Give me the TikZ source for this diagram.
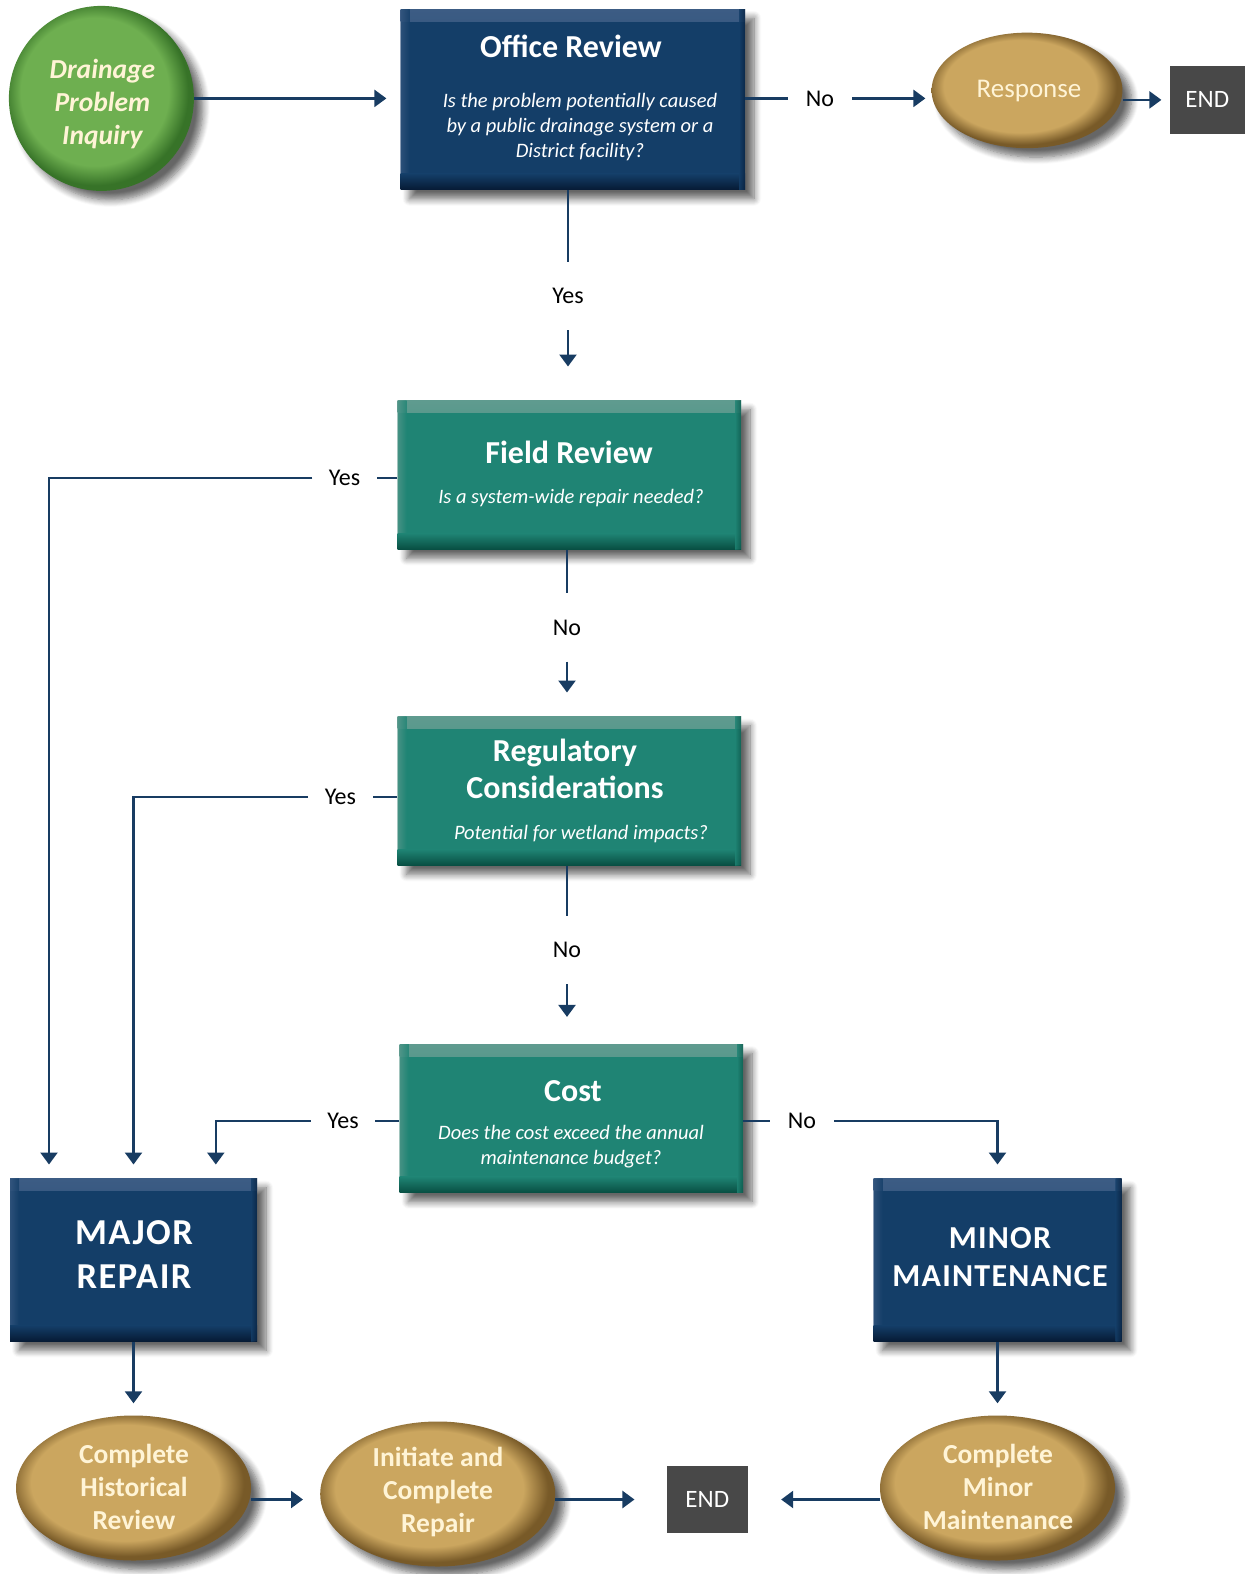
\documentclass[tikz,border=0pt]{standalone}
\usepackage{fontspec}
\setmainfont{Carlito}
\newfontfamily\spacedfont[LetterSpace=4]{Carlito}
\usetikzlibrary{arrows.meta,calc,shadows.blur,shapes.geometric}
\definecolor{navy}{RGB}{20,62,104}
\definecolor{navyL}{RGB}{60,92,132}
\definecolor{navyD}{RGB}{6,26,52}
\definecolor{teal}{RGB}{31,132,116}
\definecolor{tealL}{RGB}{95,155,143}
\definecolor{tealD}{RGB}{8,78,66}
\definecolor{goldc}{RGB}{203,166,95}
\definecolor{goldd}{RGB}{120,90,40}
\definecolor{greenc}{RGB}{110,175,80}
\definecolor{greend}{RGB}{55,115,40}
\definecolor{endgray}{RGB}{72,72,72}
\definecolor{lnc}{RGB}{24,60,98}
\definecolor{cream}{RGB}{255,244,214}
\pgfdeclareradialshading{goldrim}{\pgfpoint{-3bp}{3bp}}{color(0bp)=(goldc);color(20bp)=(goldc);color(25bp)=(goldd);color(50bp)=(goldd)}
\pgfdeclareradialshading{greenrim}{\pgfpoint{-3bp}{3bp}}{color(0bp)=(greenc);color(20bp)=(greenc);color(25bp)=(greend);color(50bp)=(greend)}
\tikzset{
  shad/.style={blur shadow={shadow xshift=9pt,shadow yshift=-9pt,shadow blur radius=7pt,shadow blur steps=8,shadow opacity=60}},
  navybox/.style={rectangle,fill=navy,shad,path picture={
    \fill[top color=navyL,bottom color=navy] (path picture bounding box.north west) rectangle ([yshift=-12pt]path picture bounding box.north east);
    \fill[left color=navyL,right color=navy,opacity=0.6] (path picture bounding box.north west) rectangle ([xshift=9pt]path picture bounding box.south west);
    \fill[top color=navy,bottom color=navyD] ([yshift=16pt]path picture bounding box.south west) rectangle (path picture bounding box.south east);
    \fill[left color=navy,right color=navyD,opacity=0.6] ([xshift=-6pt]path picture bounding box.north east) rectangle (path picture bounding box.south east);}},
  tealbox/.style={rectangle,fill=teal,shad,minimum width=343.4pt,minimum height=148.6pt,path picture={
    \fill[top color=tealL,bottom color=teal] (path picture bounding box.north west) rectangle ([yshift=-12pt]path picture bounding box.north east);
    \fill[left color=tealL,right color=teal,opacity=0.6] (path picture bounding box.north west) rectangle ([xshift=9pt]path picture bounding box.south west);
    \fill[top color=teal,bottom color=tealD] ([yshift=16pt]path picture bounding box.south west) rectangle (path picture bounding box.south east);
    \fill[left color=teal,right color=tealD,opacity=0.6] ([xshift=-6pt]path picture bounding box.north east) rectangle (path picture bounding box.south east);}},
  goldell/.style={ellipse,shading=goldrim,shad,inner sep=0pt},
  endbox/.style={rectangle,fill=endgray,text=white,font=\fontsize{25}{30}\selectfont},
  ttl/.style={text=white,font=\fontsize{32}{37}\selectfont\bfseries,align=center,inner sep=0pt},
  sub/.style={text=white,font=\fontsize{20.5}{25}\selectfont\itshape,align=center,inner sep=0pt},
  gtxt/.style={text=cream,font=\fontsize{27.5}{33}\selectfont\bfseries,align=center,inner sep=0pt},
  hlab/.style={font=\fontsize{24}{28}\selectfont,minimum width=64pt,inner sep=0pt},
  vlab/.style={font=\fontsize{24}{28}\selectfont,minimum height=68pt,inner sep=0pt},
  ln/.style={draw=lnc,line width=2.4pt},
  arr/.style={ln,-{Triangle[length=12pt,width=17pt]}}
}
\begin{document}
\begin{tikzpicture}[x=1pt,y=-1pt]
\useasboundingbox (0,0) rectangle (1245,1574);
% nodes
\node[circle,shading=greenrim,shad,minimum size=185pt,inner sep=0pt] (green) at (101.4,98.4) {};
\node[text=cream,font=\fontsize{27.5}{33}\selectfont\bfseries\itshape,align=center,inner sep=0pt] (greenT) at (102.4,104) {Drainage\\Problem\\Inquiry};
\node[navybox,minimum width=344.4pt,minimum height=180.8pt] (office) at (572.8,99.4) {};
\node[ttl] (officeT) at (571,46.5) {Office Review};
\node[sub] (officeS) at (580,127.5) {Is the problem potentially caused\\by a public drainage system or a\\District facility?};
\node[goldell,minimum width=190.8pt,minimum height=115.5pt] (resp) at (1027,90.4) {};
\node[text=cream,font=\fontsize{27}{32}\selectfont,inner sep=0pt] (respT) at (1029,91) {Response};
\node[endbox,minimum width=75.4pt,minimum height=67.2pt] (end1) at (1207.3,99.9) {END};
\node[hlab] (no1) at (820,98.4) {No};
\node[vlab] (yes0) at (568,296) {Yes};
\node[tealbox] (field) at (569.3,475) {};
\node[ttl] (fieldT) at (569,452.8) {Field Review};
\node[sub] (fieldS) at (571,498) {Is a system-wide repair needed?};
\node[hlab] (yesF) at (344.5,478) {Yes};
\node[vlab] (noF) at (567,627.5) {No};
\node[tealbox] (reg) at (569.3,791) {};
\node[ttl] (regT) at (565,769) {Regulatory\\Considerations};
\node[sub] (regS) at (581,834.3) {Potential for wetland impacts?};
\node[hlab] (yesR) at (340.4,797) {Yes};
\node[vlab] (noR) at (567,950) {No};
\node[tealbox] (cost) at (571.3,1118.4) {};
\node[ttl] (costT) at (573,1091.3) {Cost};
\node[sub] (costS) at (571,1147) {Does the cost exceed the annual\\maintenance budget?};
\node[hlab] (yesC) at (343,1121) {Yes};
\node[hlab] (noC) at (802,1121) {No};
\node[navybox,minimum width=247pt,minimum height=162.6pt] (major) at (133.5,1260) {};
\node[text=white,font=\fontsize{36.5}{44}\selectfont\bfseries\spacedfont,align=center,inner sep=0pt] (majorT) at (134,1255) {MAJOR\\REPAIR};
\node[navybox,minimum width=248pt,minimum height=162.6pt] (minor) at (997.5,1260) {};
\node[text=white,font=\fontsize{32}{38}\selectfont\bfseries\spacedfont,align=center,inner sep=0pt] (minorT) at (1000,1257) {MINOR\\MAINTENANCE};
\node[goldell,minimum width=235pt,minimum height=145pt] (chr) at (133.5,1488) {};
\node[gtxt] (chrT) at (134,1487) {Complete\\Historical\\Review};
\node[goldell,minimum width=235pt,minimum height=145pt] (icr) at (437.7,1494) {};
\node[gtxt] (icrT) at (438,1492) {Initiate and\\Complete\\Repair};
\node[goldell,minimum width=235pt,minimum height=145pt] (cmm) at (997.5,1488) {};
\node[gtxt] (cmmT) at (998,1487) {Complete\\Minor\\Maintenance};
\node[endbox,minimum width=81.3pt,minimum height=67pt] (end2) at (707.3,1499.5) {END};
\coordinate (majA) at ($(major.north west)+(39.2,0)$);
\coordinate (majC) at ($(major.north west)+(206,0)$);
% connectors
\draw[arr,shorten >=14pt] (green.east) -- (green.east -| office.west);
\draw[ln] (office.east |- no1) -- (no1.west);
\draw[arr,shorten >=6pt] (no1.east) -- (no1 -| resp.west);
\draw[arr,shorten >=8pt] (resp.east |- end1) -- (end1.west);
\draw[ln] (office.south -| yes0) -- (yes0.north);
\draw[arr,shorten >=34pt] (yes0.south) -- (yes0.south |- field.north);
\draw[ln] (field.west |- yesF) -- (yesF.east);
\draw[arr,shorten >=14pt] (yesF.west) -| (majA);
\draw[ln] (field.south -| noF) -- (noF.north);
\draw[arr,shorten >=24pt] (noF.south) -- (noF.south |- reg.north);
\draw[ln] (reg.west |- yesR) -- (yesR.east);
\draw[arr,shorten >=14pt] (yesR.west) -| (major.north);
\draw[ln] (reg.south -| noR) -- (noR.north);
\draw[arr,shorten >=27pt] (noR.south) -- (noR.south |- cost.north);
\draw[ln] (cost.west |- yesC) -- (yesC.east);
\draw[arr,shorten >=14pt] (yesC.west) -| (majC);
\draw[ln] (cost.east |- noC) -- (noC.west);
\draw[arr,shorten >=14pt] (noC.east) -| (minor.north);
\draw[arr,shorten >=12pt] (major.south) -- (chr.north);
\draw[arr,shorten >=12pt] (minor.south) -- (cmm.north);
\draw[arr,shorten >=17pt] (chr.east |- end2) -- (icr.west |- end2);
\draw[arr,shorten >=32pt] (icr.east |- end2) -- (end2.west);
\draw[arr,shorten >=33pt] (cmm.west |- end2) -- (end2.east);
\end{tikzpicture}
\end{document}
